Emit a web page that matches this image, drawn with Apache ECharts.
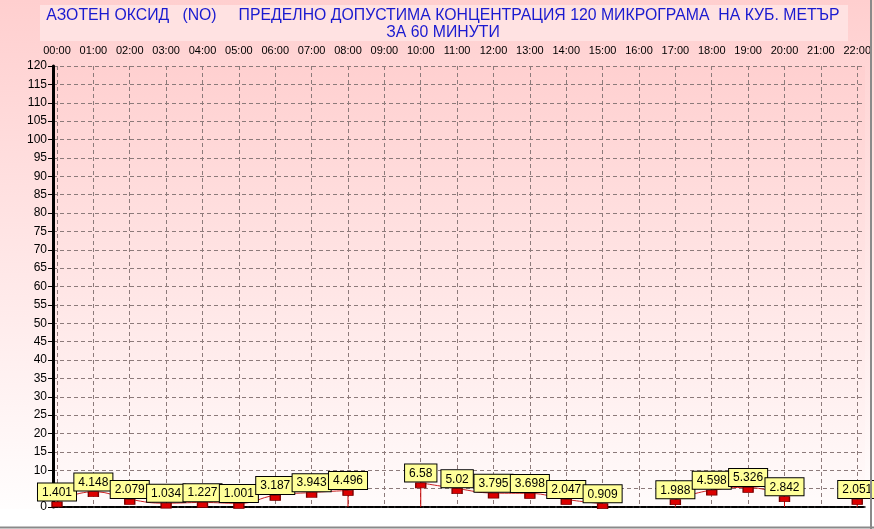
<!DOCTYPE html>
<html><head><meta charset="utf-8">
<script src="https://cdn.jsdelivr.net/npm/echarts@6/dist/echarts.min.js"></script>
<style>html,body{margin:0;padding:0;background:#fff}#c{width:874px;height:529px}</style>
</head><body><div id="c"></div>
<script>
const titleLines = ['АЗОТЕН ОКСИД   (NO)     ПРЕДЕЛНО ДОПУСТИМА КОНЦЕНТРАЦИЯ 120 МИКРОГРАМА  НА КУБ. МЕТЪР', 'ЗА 60 МИНУТИ'];
const hourLabels = ['00:00','01:00','02:00','03:00','04:00','05:00','06:00','07:00','08:00','09:00','10:00','11:00','12:00','13:00','14:00','15:00','16:00','17:00','18:00','19:00','20:00','21:00','22:00'];
const noValues = [1.401,4.148,2.079,1.034,1.227,1.001,3.187,3.943,4.496,null,6.58,5.02,3.795,3.698,2.047,0.909,null,1.988,4.598,5.326,2.842,null,2.051];
const yMin = 0, yMax = 120, yStep = 5;

const lineData = noValues.map((v,i)=>[i, v===null ? '-' : v]);
const dropData = [];
noValues.forEach((v,i)=>{
  if (v===null) return;
  const prevGap = i>0 && noValues[i-1]===null;
  const nextGap = i<noValues.length-1 && noValues[i+1]===null;
  if (prevGap || nextGap) dropData.push([i, v]);
});

const chart = echarts.init(document.getElementById('c'), null, {renderer:'canvas'});
const bgGrad = new echarts.graphic.LinearGradient(0,0,0,1,[{offset:0,color:'#ffcfcf'},{offset:1,color:'#ffffff'}]);
const plotGrad = new echarts.graphic.LinearGradient(0,0,0,1,[{offset:0,color:'#ffd0d0'},{offset:1,color:'#fffbfb'}]);
const sans = '"Liberation Sans", Arial, sans-serif';
chart.setOption({
  backgroundColor: bgGrad,
  animation: false,
  graphic: [
    {type:'rect', z:-1, shape:{x:40,y:5,width:808,height:36}, style:{fill:'#ffe2e2'}},
    {type:'rect', z:-1, shape:{x:0,y:509,width:874,height:20}, style:{fill:'#ffffff'}},
    {type:'line', z:10, shape:{x1:871,y1:0,x2:871,y2:529}, style:{stroke:'#8a8a8a',lineWidth:2}},
    {type:'line', z:10, shape:{x1:0,y1:527.5,x2:874,y2:527.5}, style:{stroke:'#8a8a8a',lineWidth:2}},
    {type:'text', z:10, x:443, y:7, scaleX:0.93, scaleY:1, originX:0, originY:0,
     style:{text:titleLines.join('\n'), fill:'#1a1ad0', font:'17px '+sans, align:'center', lineHeight:17}}
  ],
  grid: [
    {left:57, right:14, top:66, bottom:22},
    {left:53, right:9, top:66, bottom:22, show:true, backgroundColor:plotGrad, borderWidth:0}
  ],
  xAxis: [
    {type:'value', gridIndex:0, position:'top', min:0, max:hourLabels.length-1, interval:1,
     axisLine:{show:false}, axisTick:{show:false},
     axisLabel:{formatter:v=>hourLabels[v]||'', color:'#000', fontSize:11, fontFamily:sans, margin:10},
     splitLine:{show:true, lineStyle:{color:'#8c7a7a', type:[4,3], width:1}}},
    {type:'value', gridIndex:1, position:'top', min:0, max:1, axisLabel:{show:false}, axisTick:{show:false}, splitLine:{show:false},
     axisLine:{show:true, lineStyle:{color:'#000', width:2, type:[5,2]}}},
    {type:'value', gridIndex:1, position:'bottom', min:0, max:1, axisLabel:{show:false}, axisTick:{show:false}, splitLine:{show:false},
     axisLine:{show:true, lineStyle:{color:'#000', width:1.5, type:[4,2]}}}
  ],
  yAxis: [
    {type:'value', gridIndex:0, min:yMin, max:yMax, interval:yStep, show:false},
    {type:'value', gridIndex:1, position:'left', min:yMin, max:yMax, interval:yStep,
     axisLine:{show:true, lineStyle:{color:'#000', width:3}},
     axisTick:{show:true, length:5, lineStyle:{color:'#000'}},
     axisLabel:{color:'#000', fontSize:12, fontFamily:sans, margin:6},
     splitLine:{show:true, lineStyle:{color:'#8c7a7a', type:[4,3], width:1}}},
    {type:'value', gridIndex:1, position:'right', min:yMin, max:yMax, interval:yStep,
     axisLine:{show:true, lineStyle:{color:'#000', width:1.5}}, axisTick:{show:false}, axisLabel:{show:false}, splitLine:{show:false}}
  ],
  series: [
    {type:'bar', xAxisIndex:0, yAxisIndex:0, data:dropData, barWidth:1, itemStyle:{color:'#cc0000'}, z:2, silent:true},
    {type:'line', xAxisIndex:0, yAxisIndex:0, data:lineData, smooth:0.5, connectNulls:false, z:3,
     lineStyle:{color:'#cc2020', width:1},
     symbol:'rect', symbolSize:[10,5], symbolOffset:[0,2.5],
     itemStyle:{color:'#dd0000', borderColor:'#7a0000', borderWidth:1},
     label:{show:true, position:'top', distance:1, color:'#000', fontSize:12, fontFamily:sans,
       backgroundColor:'#ffff99', borderColor:'#000', borderWidth:1, padding:[3,4,2,4],
       formatter:p=>String(p.value[1])}}
  ]
});
</script></body></html>
